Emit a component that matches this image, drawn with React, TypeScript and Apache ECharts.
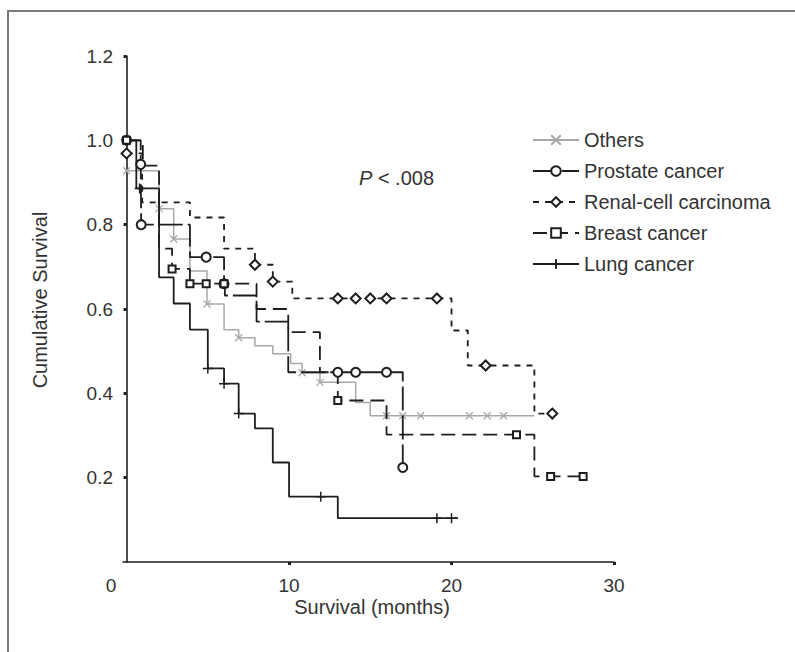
import React, { useEffect, useRef } from "react";
import * as echarts from "echarts";

const FONT = '"Liberation Sans", Arial, Helvetica, sans-serif';

const seriesNames = ["Others", "Prostate cancer", "Renal-cell carcinoma", "Breast cancer", "Lung cancer"];

const yTickValues = [0.2, 0.4, 0.6, 0.8, 1.0, 1.2];
const xTickValues = [10, 20, 30];

// Others (gray, x marks)
const othersT = [0, 2.0, 2.9, 3.9, 4.95, 6.0, 6.9, 7.9, 9.0, 10.1, 10.8, 11.9, 14.1, 15.0, 16.0, 17.0, 18.1, 21.1, 22.2, 23.2, 25.1];
const othersS = [0.928, 0.838, 0.766, 0.69, 0.612, 0.551, 0.532, 0.513, 0.494, 0.471, 0.449, 0.426, 0.378, 0.347, 0.347, 0.347, 0.347, 0.347, 0.347, 0.347, 0.347];
const othersMark = [1, 1, 1, 0, 1, 0, 1, 0, 0, 0, 1, 1, 0, 0, 1, 1, 1, 1, 1, 1, 0];

// Prostate cancer (circles)
const prostateT = [0, 0.87, 0.9, 3.9, 4.9, 6.0, 6.05, 8.0, 9.95, 13.0, 14.1, 16.0, 17.0];
const prostateS = [1.0, 0.943, 0.8, 0.723, 0.723, 0.66, 0.632, 0.57, 0.45, 0.45, 0.45, 0.45, 0.224];
const prostateMark = [1, 1, 1, 0, 1, 1, 0, 0, 0, 1, 1, 1, 1];

// Renal-cell carcinoma (diamonds)
const renalT = [0, 0.96, 3.9, 6.0, 7.9, 9.0, 10.2, 13.0, 14.1, 15.0, 16.0, 19.1, 20.0, 21.0, 22.1, 25.1, 26.2];
const renalS = [0.969, 0.853, 0.817, 0.743, 0.705, 0.665, 0.625, 0.625, 0.625, 0.625, 0.625, 0.625, 0.549, 0.466, 0.466, 0.352, 0.352];
const renalMark = [1, 0, 0, 0, 1, 1, 0, 1, 1, 1, 1, 1, 0, 0, 1, 0, 1];

// Breast cancer (squares)
const breastT = [0, 1.0, 2.0, 2.8, 3.9, 4.9, 6.0, 8.0, 9.95, 11.9, 13.0, 16.0, 24.0, 25.1, 26.1, 28.1];
const breastS = [1.0, 0.94, 0.743, 0.695, 0.66, 0.66, 0.66, 0.6, 0.545, 0.45, 0.383, 0.302, 0.302, 0.203, 0.203, 0.203];
const breastMark = [1, 0, 0, 1, 1, 1, 1, 0, 0, 0, 1, 0, 1, 0, 1, 1];

// Lung cancer (+ marks)
const lungT = [0, 0.6, 0.8, 2.0, 2.9, 3.9, 5.0, 6.0, 6.9, 7.9, 9.0, 10.0, 11.95, 13.0, 19.1, 20.0, 20.4];
const lungS = [1.0, 0.886, 0.886, 0.675, 0.613, 0.551, 0.459, 0.423, 0.352, 0.317, 0.236, 0.155, 0.155, 0.104, 0.104, 0.104, 0.104];
const lungMark = [0, 0, 1, 0, 0, 0, 1, 1, 1, 0, 0, 0, 1, 0, 1, 1, 0];

function buildData(t: number[], s: number[], m: number[]) {
  return t.map((tv, i) => (m[i] ? { value: [tv, s[i]] } : { value: [tv, s[i]], symbol: "none" }));
}

const X_SYMBOL = "path://M0,0L10,10M10,0L0,10";
const PLUS_SYMBOL = "path://M5,0L5,10M0,5L10,5";

export default function App() {
  const ref = useRef<HTMLDivElement>(null);

  useEffect(() => {
    if (!ref.current) return;
    const chart = echarts.init(ref.current, undefined, { renderer: "svg" });
    const dark = "#1e1e1e";
    const gray = "#a8a8a8";
    const textColor = "#333";

    const option: any = {
      animation: false,
      backgroundColor: "#fff",
      textStyle: { fontFamily: FONT },
      grid: { left: 123, right: 181, top: 56, bottom: 90, containLabel: false },
      xAxis: {
        type: "value",
        min: -0.22,
        max: 30,
        axisLine: { show: true, onZero: false, lineStyle: { color: dark, width: 1.6 } },
        axisTick: { show: true, customValues: xTickValues, length: 3, lineStyle: { color: dark, width: 3 } },
        axisLabel: { customValues: xTickValues, fontSize: 19, color: textColor, margin: 14, fontFamily: FONT },
        splitLine: { show: false },
      },
      yAxis: {
        type: "value",
        min: 0,
        max: 1.2,
        axisLine: { show: true, lineStyle: { color: dark, width: 1.6 } },
        axisTick: { show: true, customValues: yTickValues, length: 3, lineStyle: { color: dark, width: 3 } },
        axisLabel: {
          customValues: yTickValues,
          formatter: (v: number) => v.toFixed(1),
          fontSize: 19,
          color: textColor,
          margin: 10,
          fontFamily: FONT,
        },
        splitLine: { show: false },
      },
      legend: {
        orient: "vertical",
        left: 527,
        top: 125,
        itemWidth: 46,
        itemHeight: 12,
        itemGap: 11,
        selectedMode: false,
        textStyle: { fontSize: 20, color: textColor, fontFamily: FONT, lineHeight: 20 },
        data: seriesNames,
      },
      series: [
        {
          name: seriesNames[0],
          type: "line",
          step: "end",
          data: buildData(othersT, othersS, othersMark),
          symbol: X_SYMBOL,
          symbolSize: 7,
          showAllSymbol: true,
          lineStyle: { color: gray, width: 1.5, type: "solid" },
          itemStyle: { color: gray, borderColor: gray, borderWidth: 1.3 },
          z: 2,
        },
        {
          name: seriesNames[1],
          type: "line",
          step: "end",
          data: buildData(prostateT, prostateS, prostateMark),
          symbol: "emptyCircle",
          symbolSize: 9,
          showAllSymbol: true,
          lineStyle: { color: dark, width: 1.8, type: [24, 5] },
          itemStyle: { color: dark, borderWidth: 1.5 },
          z: 3,
        },
        {
          name: seriesNames[2],
          type: "line",
          step: "end",
          data: buildData(renalT, renalS, renalMark),
          symbol: "emptyDiamond",
          symbolSize: 10,
          showAllSymbol: true,
          lineStyle: { color: dark, width: 1.8, type: [6, 6] },
          itemStyle: { color: dark, borderWidth: 1.5 },
          z: 3,
        },
        {
          name: seriesNames[3],
          type: "line",
          step: "end",
          data: buildData(breastT, breastS, breastMark),
          symbol: "emptyRect",
          symbolSize: 7,
          showAllSymbol: true,
          lineStyle: { color: dark, width: 1.8, type: [14, 7] },
          itemStyle: { color: dark, borderWidth: 1.5 },
          z: 3,
        },
        {
          name: seriesNames[4],
          type: "line",
          step: "end",
          data: buildData(lungT, lungS, lungMark),
          symbol: PLUS_SYMBOL,
          symbolSize: 10,
          showAllSymbol: true,
          lineStyle: { color: dark, width: 1.8, type: "solid" },
          itemStyle: { color: dark, borderColor: dark, borderWidth: 1.5 },
          z: 3,
        },
      ],
      graphic: [
        {
          type: "rect",
          shape: { x: 8, y: 11, width: 800, height: 700 },
          style: { fill: "none", stroke: "#7a7a7a", lineWidth: 2 },
          silent: true,
        },
        {
          type: "text",
          x: 111,
          y: 585,
          style: { text: "0", fontSize: 19, fontFamily: FONT, fill: textColor, align: "center", verticalAlign: "middle" },
        },
        {
          type: "text",
          x: 40,
          y: 300,
          rotation: Math.PI / 2,
          style: {
            text: "Cumulative Survival",
            fontSize: 20,
            fontFamily: FONT,
            fill: textColor,
            align: "center",
            verticalAlign: "middle",
          },
        },
        {
          type: "text",
          x: 372,
          y: 607,
          style: {
            text: "Survival (months)",
            fontSize: 20,
            fontFamily: FONT,
            fill: textColor,
            align: "center",
            verticalAlign: "middle",
          },
        },
        {
          type: "text",
          x: 359,
          y: 178,
          style: {
            text: "{i|P} < .008",
            fontSize: 20,
            fontFamily: FONT,
            fill: textColor,
            align: "left",
            verticalAlign: "middle",
            rich: { i: { fontStyle: "italic", fontSize: 20, fontFamily: FONT, fill: textColor } },
          },
        },
      ],
    };

    chart.setOption(option);
    return () => chart.dispose();
  }, []);

  return (
    <div
      ref={ref}
      style={{ position: "fixed", left: 0, top: 0, width: 795, height: 652, background: "#fff" }}
    />
  );
}
